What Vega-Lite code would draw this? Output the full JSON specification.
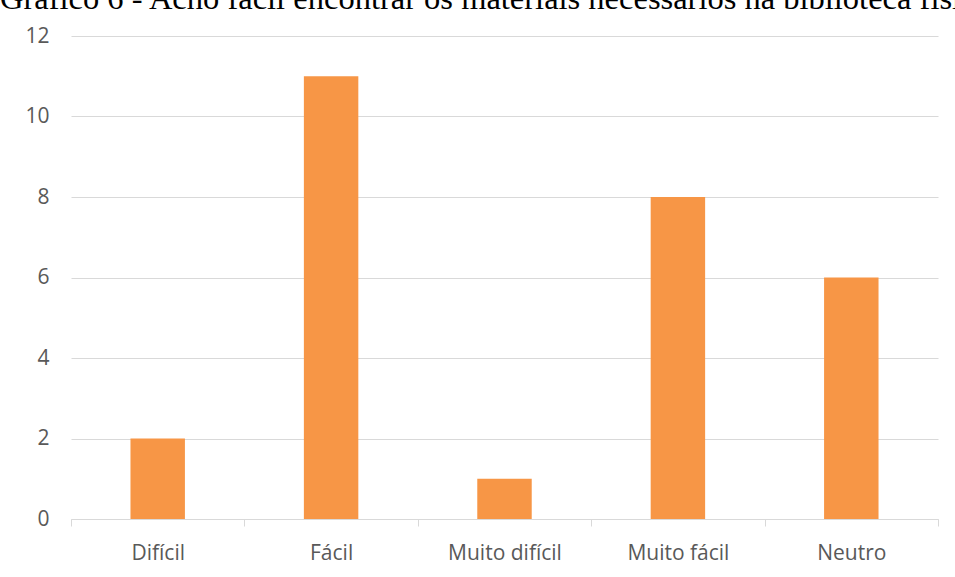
{
  "$schema": "https://vega.github.io/schema/vega-lite/v6.json",
  "autosize": {"type": "none"},
  "width": 867,
  "height": 483,
  "padding": {"left": 71, "top": 36, "right": 17, "bottom": 58},
  "background": "white",
  "title": {
    "text": "Gráfico 6 - Acho fácil encontrar os materiais necessários na biblioteca física",
    "anchor": "start",
    "frame": "group",
    "dx": -71,
    "offset": -16,
    "baseline": "alphabetic",
    "font": "Liberation Serif",
    "fontSize": 32.5,
    "fontWeight": "normal",
    "color": "black",
    "limit": 0
  },
  "data": {
    "values": [
      {"categoria": "Difícil", "valor": 2},
      {"categoria": "Fácil", "valor": 11},
      {"categoria": "Muito difícil", "valor": 1},
      {"categoria": "Muito fácil", "valor": 8},
      {"categoria": "Neutro", "valor": 6}
    ]
  },
  "mark": {"type": "bar", "color": "#F79646", "width": {"band": 0.314}},
  "encoding": {
    "x": {
      "field": "categoria",
      "type": "nominal",
      "sort": null,
      "scale": {"paddingInner": 0, "paddingOuter": 0},
      "axis": {
        "title": null,
        "labelAngle": 0,
        "labelFont": "Open Sans",
        "labelFontSize": 21,
        "labelColor": "#595959",
        "labelBaseline": "alphabetic",
        "labelPadding": 33,
        "domainColor": "#d9d9d9",
        "domainWidth": 1,
        "tickColor": "#d9d9d9",
        "tickSize": 7,
        "tickBand": "extent",
        "grid": false
      }
    },
    "y": {
      "field": "valor",
      "type": "quantitative",
      "scale": {"domain": [0, 12], "nice": false},
      "axis": {
        "title": null,
        "values": [0, 2, 4, 6, 8, 10, 12],
        "labelFont": "Open Sans",
        "labelFontSize": 21,
        "labelColor": "#595959",
        "labelPadding": 22,
        "domain": false,
        "ticks": false,
        "grid": true,
        "gridColor": "#d9d9d9",
        "gridWidth": 1
      }
    }
  },
  "config": {"view": {"stroke": null}}
}
